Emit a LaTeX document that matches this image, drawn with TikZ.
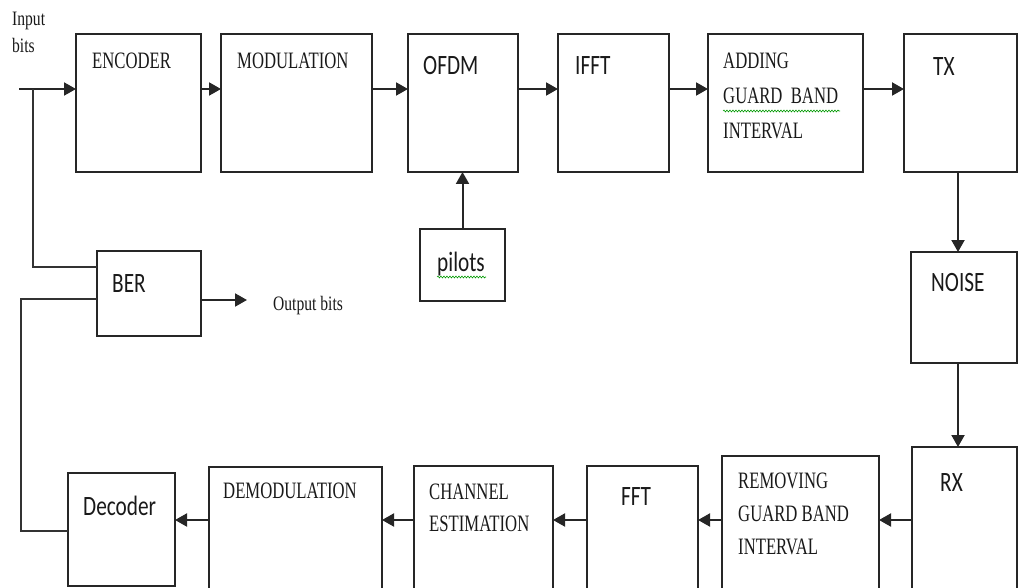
\documentclass[tikz,border=0pt]{standalone}
\usepackage{fontspec}
\setmainfont[FakeStretch=0.71]{Liberation Serif}
\newfontfamily\notefont[FakeStretch=0.76]{Liberation Serif}
\newfontfamily\calfont[FakeStretch=0.76]{Carlito}
\usetikzlibrary{arrows.meta,calc,decorations.pathmorphing}

\begin{document}
\begin{tikzpicture}[x=1pt, y=-1pt,
  blk/.style={draw=black!85, line width=1.4pt, inner sep=0pt, outer sep=0pt, anchor=north west},
  lbl/.style={anchor=north west, inner sep=0pt, text=black!90, align=left, font=\fontsize{23.5}{34}\selectfont},
  slbl/.style={anchor=north west, inner sep=0pt, text=black!90, font=\calfont\fontsize{28}{32}\selectfont},
  note/.style={anchor=north west, inner sep=0pt, text=black!90, align=left, font=\notefont\fontsize{20.5}{27}\selectfont},
  arr/.style={-{Triangle[length=12pt,width=13pt]}, line width=2pt, draw=black!85},
  wire/.style={line width=1.4pt, draw=black!80},
  squig/.style={green!60!black, line width=0.6pt, decorate, decoration={snake, amplitude=0.9pt, segment length=3pt}}
]
\useasboundingbox (0,0) rectangle (1019,588);

% transmitter row
\node[blk, minimum width=125pt, minimum height=138pt] (enc) at (76,34) {};
\node[blk, minimum width=151pt, minimum height=138pt] (mod) at (221,34) {};
\node[blk, minimum width=110pt, minimum height=138pt] (ofdm) at (408,34) {};
\node[blk, minimum width=111pt, minimum height=138pt] (ifft) at (558,34) {};
\node[blk, minimum width=155pt, minimum height=138pt] (add) at (708,34) {};
\node[blk, minimum width=113pt, minimum height=138pt] (tx) at (904,34) {};
\node[blk, minimum width=85pt, minimum height=72pt] (pil) at (420,229) {};

% channel
\node[blk, minimum width=106pt, minimum height=111pt] (noise) at (911,252) {};

% receiver row
\node[blk, minimum width=105pt, minimum height=150pt] (rx) at (912,447) {};
\node[blk, minimum width=157pt, minimum height=140pt] (rem) at (722,456) {};
\node[blk, minimum width=111pt, minimum height=130pt] (fft) at (587,466) {};
\node[blk, minimum width=139pt, minimum height=130pt] (chan) at (414,466) {};
\node[blk, minimum width=173pt, minimum height=130pt] (demod) at (209,467) {};
\node[blk, minimum width=107pt, minimum height=113pt] (dec) at (68,473) {};
\node[blk, minimum width=104pt, minimum height=85pt] (ber) at (97,251) {};

% labels
\node[note] (inT) at (12,12) {Input\\bits};
\node[lbl] (encT) at (92,53) {ENCODER};
\node[lbl] (modT) at (237,53) {MODULATION};
\node[slbl] (ofdmT) at (423,56) {OFDM};
\node[slbl] (ifftT) at (575,56) {IFFT};
\node[lbl, font=\fontsize{23.5}{35}\selectfont] (addT) at (723,53) {ADDING\\GUARD\ \ BAND\\INTERVAL};
\node[slbl] (txT) at (933,57) {TX};
\node[slbl] (pilT) at (437,252) {pilots};
\node[slbl] (noiseT) at (931,273) {NOISE};
\node[slbl] (berT) at (112,274) {BER};
\node[note] (outT) at (273,296) {Output bits};
\node[slbl] (rxT) at (940,473) {RX};
\node[lbl, font=\fontsize{23.5}{33}\selectfont] (remT) at (738,473) {REMOVING\\GUARD BAND\\INTERVAL};
\node[slbl] (fftT) at (621,487) {FFT};
\node[lbl, font=\fontsize{23.5}{32}\selectfont] (chanT) at (429,484) {CHANNEL\\ESTIMATION};
\node[lbl] (demodT) at (223,483) {DEMODULATION};
\node[slbl] (decT) at (83,496) {Decoder};

% spell-check marks
\draw[squig] (723,111) -- (840,111);
\draw[squig] (437,277) -- (486,277);

% helper points
\coordinate (in) at (19,89);
\coordinate (tap) at (33,89);
\coordinate (low) at (0,520);
\coordinate (vx) at (958,0);
\coordinate (fb) at (21,299);
\coordinate (fbl) at (0,531);
\coordinate (out) at (247,300);

% forward path
\draw[arr] (in) -- (in -| enc.west);
\draw[arr] (enc.east |- in) -- (mod.west |- in);
\draw[arr] (mod.east |- in) -- (ofdm.west |- in);
\draw[arr] (ofdm.east |- in) -- (ifft.west |- in);
\draw[arr] (ifft.east |- in) -- (add.west |- in);
\draw[arr] (add.east |- in) -- (tx.west |- in);
\draw[arr] (pil.north) -- (ofdm.south -| pil.north);
\draw[arr] (vx |- tx.south) -- (vx |- noise.north);
\draw[arr] (vx |- noise.south) -- (vx |- rx.north);
\draw[arr] (rx.west |- low) -- (rem.east |- low);
\draw[arr] (rem.west |- low) -- (fft.east |- low);
\draw[arr] (fft.west |- low) -- (chan.east |- low);
\draw[arr] (chan.west |- low) -- (demod.east |- low);
\draw[arr] (demod.west |- low) -- (dec.east |- low);

% BER comparison
\draw[wire] (tap) |- ($(ber.north west)+(0,16)$);
\draw[wire] (dec.west |- fbl) -| (fb) -- (fb -| ber.west);
\draw[arr] (ber.east |- out) -- (out);

\end{tikzpicture}
\end{document}
